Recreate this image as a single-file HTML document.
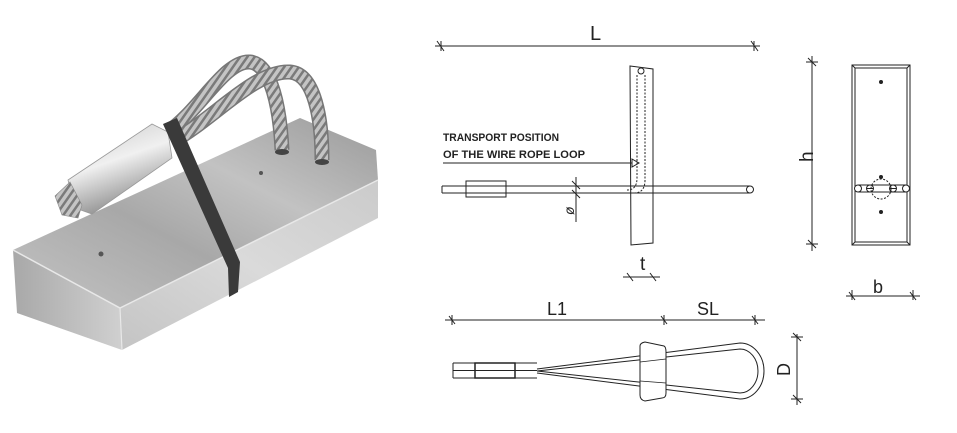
<!DOCTYPE html>
<html><head><meta charset="utf-8"><style>
html,body{margin:0;padding:0;background:#fff;}
svg{display:block}
text{font-family:"Liberation Sans",sans-serif;fill:#222}
</style></head><body>
<svg width="957" height="433" viewBox="0 0 957 433" xmlns="http://www.w3.org/2000/svg">
<defs>
<linearGradient id="top" x1="0" y1="1" x2="1" y2="0">
<stop offset="0" stop-color="#c4c4c4"/><stop offset="0.4" stop-color="#a8a8a8"/><stop offset="0.65" stop-color="#c2c2c2"/><stop offset="1" stop-color="#9a9a9a"/></linearGradient>
<linearGradient id="front" x1="0" y1="1" x2="1" y2="0">
<stop offset="0" stop-color="#c4c4c4"/><stop offset="0.5" stop-color="#dadada"/><stop offset="1" stop-color="#cbcbcb"/></linearGradient>
<linearGradient id="end" x1="0" y1="0" x2="1" y2="0">
<stop offset="0" stop-color="#a8a8a8"/><stop offset="1" stop-color="#d0d0d0"/></linearGradient>
<linearGradient id="fer" x1="0" y1="0" x2="0.4" y2="1">
<stop offset="0" stop-color="#c8c8c8"/><stop offset="0.5" stop-color="#f0f0f0"/><stop offset="1" stop-color="#8d8d8d"/></linearGradient>
<pattern id="strand" width="6" height="6" patternUnits="userSpaceOnUse" patternTransform="rotate(35)">
<rect width="6" height="6" fill="#c4c4c4"/><rect width="2.5" height="6" fill="#7a7a7a"/></pattern>
</defs>

<!-- photo -->
<polygon points="120,308 378,180 378,218 122,350" fill="url(#front)"/>
<polygon points="13,250 120,308 122,350 17,313" fill="url(#end)"/>
<polygon points="13,250 120,308 378,180 376,150 300,118" fill="url(#top)"/>
<polyline points="13,250 120,308 378,180" fill="none" stroke="#e8e8e8" stroke-width="1.5"/>
<line x1="120" y1="308" x2="122" y2="350" stroke="#e8e8e8" stroke-width="1.2"/>
<circle cx="101" cy="254" r="2.5" fill="#555"/>
<circle cx="261" cy="173" r="2" fill="#555"/>
<!-- ropes -->
<path d="M168,132 C200,110 225,60 250,62 C272,64 280,110 282,150" fill="none" stroke="#777" stroke-width="15"/>
<path d="M168,132 C200,110 225,60 250,62 C272,64 280,110 282,150" fill="none" stroke="url(#strand)" stroke-width="12"/>
<path d="M172,142 C215,118 255,70 290,72 C315,74 322,120 322,160" fill="none" stroke="#777" stroke-width="15"/>
<path d="M172,142 C215,118 255,70 290,72 C315,74 322,120 322,160" fill="none" stroke="url(#strand)" stroke-width="12"/>
<ellipse cx="282" cy="152" rx="7" ry="3" fill="#444"/>
<ellipse cx="322" cy="162" rx="7" ry="3" fill="#444"/>
<!-- ferrule -->
<polygon points="68,180 152,124 168,132 172,158 92,214 75,208" fill="url(#fer)" stroke="#999" stroke-width="0.8"/>
<polygon points="55,196 70,182 82,205 78,218 62,215" fill="url(#strand)" stroke="#888" stroke-width="0.6"/>
<!-- strap -->
<polygon points="163,124 177,118 240,262 238,292 229,297 228,268" fill="#3a3a3a"/>

<!-- drawing -->
<g stroke="#222" fill="none" stroke-width="1">
<line x1="435" y1="46" x2="760" y2="46"/>
<line x1="437" y1="41" x2="444" y2="51"/><line x1="751" y1="41" x2="758" y2="51"/>
<line x1="441" y1="41" x2="441" y2="51"/><line x1="754" y1="41" x2="754" y2="51"/>
<polygon points="630,66 653,69 653,243 631,245"/>
<path d="M637,75 V178 Q637,190 627,190" stroke-dasharray="2,1.5"/>
<path d="M645,75 V180 Q645,193 634,193" stroke-dasharray="2,1.5"/>
<circle cx="641" cy="71" r="3"/>
<path d="M442,186 H750 M442,193 H750 M442,186 V193"/>
<circle cx="750" cy="189.5" r="3.5" fill="#fff"/>
<rect x="466" y="181" width="40" height="16"/>
<line x1="443" y1="163" x2="632" y2="163"/>
<polygon points="632,159 639,163 632,167"/>
<line x1="576" y1="177" x2="576" y2="222"/>
<line x1="572" y1="181" x2="580" y2="189"/><line x1="572" y1="190" x2="580" y2="198"/>
<line x1="623" y1="277" x2="660" y2="277"/>
<line x1="627" y1="273" x2="633" y2="281"/><line x1="650" y1="273" x2="656" y2="281"/>
<line x1="812" y1="56" x2="812" y2="251"/>
<line x1="806" y1="62" x2="818" y2="62"/><line x1="806" y1="244" x2="818" y2="244"/>
<line x1="808" y1="58" x2="816" y2="66"/><line x1="808" y1="240" x2="816" y2="248"/>
<rect x="852" y="65" width="58" height="180"/>
<rect x="855" y="68" width="52" height="174"/>
<line x1="852" y1="65" x2="855" y2="68"/><line x1="910" y1="65" x2="907" y2="68"/>
<line x1="852" y1="245" x2="855" y2="242"/><line x1="910" y1="245" x2="907" y2="242"/>
<path d="M858,185 H906 M858,192 H906"/>
<circle cx="858" cy="188.5" r="3.5" fill="#fff"/><circle cx="906" cy="188.5" r="3.5" fill="#fff"/>
<circle cx="870" cy="188.5" r="3.5"/><circle cx="893" cy="188.5" r="3.5"/>
<line x1="866.5" y1="188.5" x2="873.5" y2="188.5"/><line x1="889.5" y1="188.5" x2="896.5" y2="188.5"/>
<circle cx="881" cy="189" r="10" stroke-dasharray="2,1.5"/>
<line x1="846" y1="296" x2="920" y2="296"/>
<line x1="849" y1="292" x2="855" y2="300"/><line x1="910" y1="292" x2="916" y2="300"/>
<line x1="852" y1="290" x2="852" y2="300"/><line x1="913" y1="290" x2="913" y2="300"/>
<line x1="445" y1="320" x2="765" y2="320"/>
<line x1="449" y1="316" x2="455" y2="324"/><line x1="661" y1="316" x2="667" y2="324"/><line x1="752" y1="316" x2="758" y2="324"/>
<line x1="452" y1="315" x2="452" y2="325"/><line x1="664" y1="315" x2="664" y2="325"/><line x1="755" y1="315" x2="755" y2="325"/>
<path d="M453,363 H537 M453,378 H537 M453,363 V378 M453,370.5 H537"/>
<rect x="475" y="363" width="40" height="15" stroke-width="1.5"/>
<path d="M537,369 L740,343 A24,28 0 0 1 740,399 L537,373"/>
<path d="M537,371 L740,349 A18,22 0 0 1 740,393 L537,371"/>
<path d="M640,346 Q640,343 645,342 L664,346 Q666,347 666,352 L666,393 Q666,398 662,398 L645,401 Q640,400 640,395 Z" fill="#fff"/>
<path d="M640,362 L666,359 M640,381 L666,383" stroke-width="0.8"/>
<line x1="797" y1="334" x2="797" y2="405"/>
<line x1="791" y1="337" x2="803" y2="337"/><line x1="791" y1="399" x2="803" y2="399"/>
<line x1="793" y1="333" x2="801" y2="341"/><line x1="793" y1="395" x2="801" y2="403"/>
</g>
<g fill="#222">
<circle cx="881" cy="82" r="2"/><circle cx="881" cy="177" r="2"/><circle cx="881" cy="212" r="2"/>
</g>
<text x="590" y="40" font-size="20">L</text>
<text x="443" y="141" font-size="11" font-weight="bold" textLength="116" lengthAdjust="spacingAndGlyphs">TRANSPORT POSITION</text>
<text x="443" y="158" font-size="11" font-weight="bold" textLength="142" lengthAdjust="spacingAndGlyphs">OF THE WIRE ROPE LOOP</text>
<text x="566" y="217" font-size="14" font-style="italic" transform="rotate(-90 569 212)">ø</text>
<text x="640" y="270" font-size="19">t</text>
<text x="800" y="163" font-size="19" transform="rotate(-90 806 156)">h</text>
<text x="873" y="293" font-size="18">b</text>
<text x="547" y="315" font-size="18">L1</text>
<text x="697" y="315" font-size="18">SL</text>
<text x="778" y="376" font-size="18" transform="rotate(-90 784 370)">D</text>
</svg>
</body></html>
